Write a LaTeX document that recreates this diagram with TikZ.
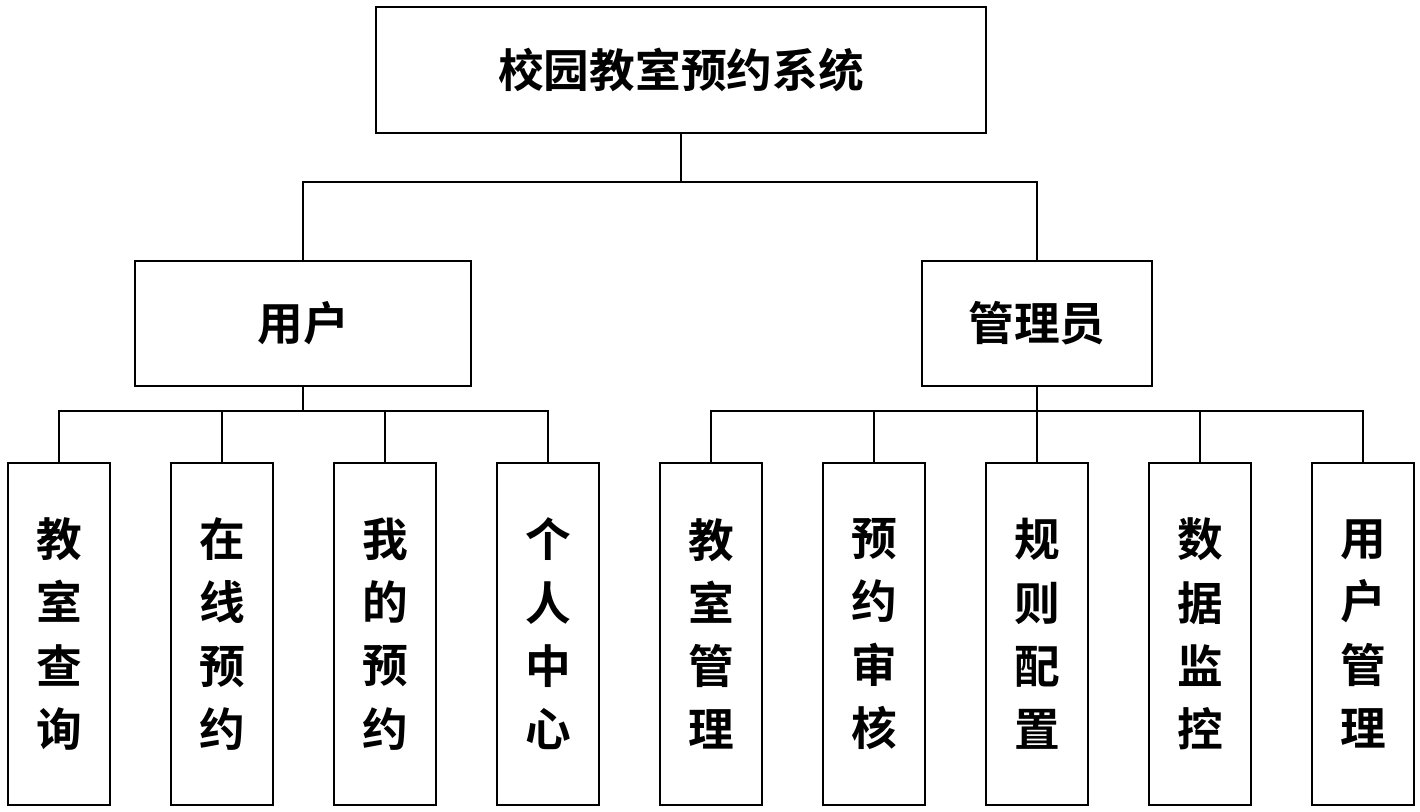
\documentclass[tikz,border=0pt]{standalone}
\usepackage{fontspec}
\newfontfamily\cjk{Noto Sans CJK SC Bold}
\usepackage{tikz}
\usetikzlibrary{positioning}

\begin{document}
\begin{tikzpicture}[-,line width=0.6pt,main node/.style={draw, line width=0.8pt, font=\cjk\fontsize{13pt}{18pt}\selectfont, align=center},leaf node/.style={main node, minimum width=1.02cm, minimum height=3.42cm}]
	\useasboundingbox (0,0) rectangle (14.2,-8.11);
	% Nodes
	\node[main node, minimum width=6.1cm, minimum height=1.26cm] (sys) at (6.81,-0.70) {校园教室预约系统};
	\node[main node, minimum width=3.36cm, minimum height=1.25cm] (user) at (3.03,-3.235) {用户};
	\node[main node, minimum width=2.30cm, minimum height=1.25cm] (admin) at (10.37,-3.235) {管理员};
	
	\foreach \x/\name/\txt in {0.59/u1/教\\室\\查\\询, 2.22/u2/在\\线\\预\\约, 3.85/u3/我\\的\\预\\约, 5.48/u4/个\\人\\中\\心}
	{
		\node[leaf node] (\name) at (\x,-6.34) {\txt};
		\draw (user.south) -- ++(0,-0.24) -| (\name.north);
	}
	\foreach \x/\name/\txt in {7.11/a1/教\\室\\管\\理, 8.74/a2/预\\约\\审\\核, 10.37/a3/规\\则\\配\\置, 12.00/a4/数\\据\\监\\控, 13.63/a5/用\\户\\管\\理}
	{
		\node[leaf node] (\name) at (\x,-6.34) {\txt};
		\draw (admin.south) -- ++(0,-0.24) -| (\name.north);
	}
	
	\draw (sys.south) -- ++(0,-0.48) -| (user.north);
	\draw (sys.south) -- ++(0,-0.48) -| (admin.north);
\end{tikzpicture}
\end{document}
